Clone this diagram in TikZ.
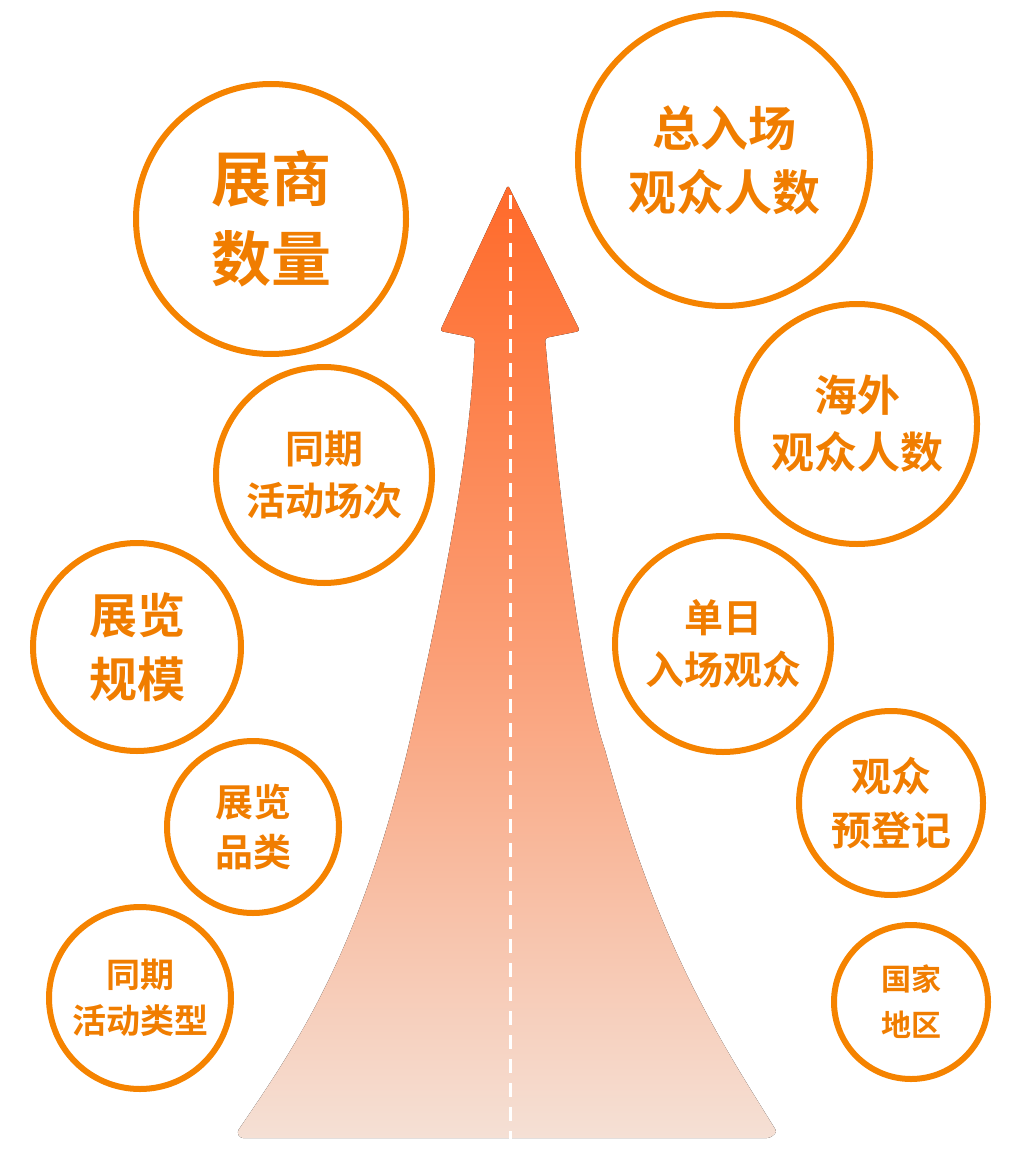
\documentclass[tikz,border=0pt]{standalone}
\usepackage{fontspec}
\newfontfamily\cjk{Noto Sans CJK SC Bold}
\definecolor{ora}{HTML}{F58300}
\definecolor{txt}{HTML}{F07D00}
\definecolor{atop}{HTML}{FF6A2A}
\definecolor{abot}{HTML}{F5E0D5}
\begin{document}
\begin{tikzpicture}[x=1pt,y=-1pt,
 bub/.style n args={3}{circle,draw=ora,line width=6pt,minimum size=#1,inner sep=0pt,align=center,text=txt,font=\cjk\fontsize{#2}{#3}\selectfont}]
\useasboundingbox (0,0) rectangle (1024,1150);
\fill[top color=atop,bottom color=abot,middle color=atop!55!abot,rounded corners=3pt]
 (508,185) -- (580,331) -- (545,338) .. controls (565,560) and (585,690) .. (605,750)
 .. controls (660,950) and (720,1040) .. (777,1132) -- (770,1138) -- (240,1138) -- (237,1132)
 .. controls (300,1040) and (360,950) .. (410,740) .. controls (450,560) and (470,450) .. (475,338)
 -- (440,331) -- cycle;
\draw[white,line width=3pt,dash pattern=on 14pt off 10pt] (510,195) coordinate(t) -- (510,1140) coordinate(b);
\node[bub={270pt}{60}{80}] (a) at (271,219) {展商\\数量};
\node[bub={292pt}{48}{64}] (b1) at (724,160) {总入场\\观众人数};
\node[bub={216pt}{39}{52}] (c) at (324,475) {同期\\活动场次};
\node[bub={240pt}{43}{57}] (d) at (857,424) {海外\\观众人数};
\node[bub={208pt}{48}{64}] (e) at (137,647) {展览\\规模};
\node[bub={216pt}{39}{52}] (f) at (723,644) {单日\\入场观众};
\node[bub={172pt}{38}{50}] (g) at (253,827) {展览\\品类};
\node[bub={184pt}{40}{54}] (h) at (891,803) {观众\\预登记};
\node[bub={182pt}{34}{46}] (i) at (140,998) {同期\\活动类型};
\node[bub={154pt}{30}{46}] (j) at (911,1002) {国家\\地区};
\end{tikzpicture}
\end{document}
